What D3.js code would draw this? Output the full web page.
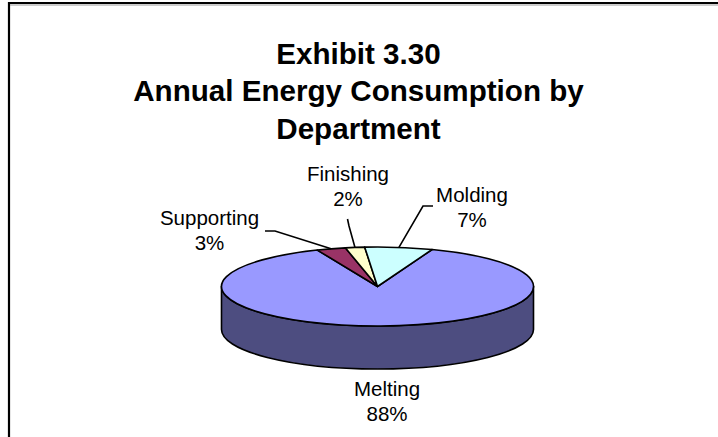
<!DOCTYPE html>
<html>
<head>
<meta charset="utf-8">
<script src="https://cdn.jsdelivr.net/npm/d3@7/dist/d3.min.js"></script>
<style>
  html, body { margin: 0; padding: 0; background: #fff; }
  svg { display: block; }
</style>
</head>
<body>
<svg id="chart" width="718" height="437"></svg>
<script>
// Department energy shares (percent of annual consumption)
const categories = ["Melting", "Supporting", "Finishing", "Molding"];
const values = [88, 3, 2, 7];
const colors = ["#9999FF", "#993366", "#FFFFCC", "#CCFFFF"];
const sideColors = ["#4D4D80", "#4D1A33", "#808066", "#668080"];
const titleLines = ["Exhibit 3.30", "Annual Energy Consumption by", "Department"];

const W = 718, H = 437;
const svg = d3.select("#chart");

// frame
svg.append("path")
  .attr("d", `M9,${H + 5} L9,3 L${W + 5},3`)
  .attr("fill", "none").attr("stroke", "#000").attr("stroke-width", 2.2);
svg.append("line")
  .attr("x1", 10).attr("x2", W).attr("y1", 5).attr("y2", 5)
  .attr("stroke", "#999").attr("stroke-width", 1);

// title
const title = svg.append("text")
  .attr("text-anchor", "middle")
  .attr("font-family", "'Liberation Sans', Arial, sans-serif")
  .attr("font-weight", "bold")
  .attr("font-size", 29.6)
  .attr("fill", "#000");
titleLines.forEach((t, i) => {
  title.append("tspan").attr("x", 358.5).attr("y", 63.5 + i * 37.5).text(t);
});

// 3D pie geometry (tilted ellipse)
const cx = 377.5, cy = 286.5, rx = 156, ry = 39.5, depth = 43;
const pt = (a, dy = 0) => [cx + rx * Math.sin(a), cy - ry * Math.cos(a) + dy];

const pie = d3.pie().sort(null).value(d => d)
  .startAngle(20.5 * Math.PI / 180)
  .endAngle(20.5 * Math.PI / 180 + 2 * Math.PI);
const arcs = pie(values);

const fmt = p => p.map(v => v.toFixed(2)).join(",");

// side wall: only the front half of the ellipse (angles pi/2 .. 3pi/2) is visible
const sides = [];
arcs.forEach((a, i) => {
  for (let k = -1; k <= 1; k++) {
    const lo = Math.PI / 2 + 2 * Math.PI * k, hi = 3 * Math.PI / 2 + 2 * Math.PI * k;
    const s0 = Math.max(a.startAngle, lo), s1 = Math.min(a.endAngle, hi);
    if (s1 > s0) sides.push({ i, s0, s1 });
  }
});
svg.append("g").selectAll("path").data(sides).join("path")
  .attr("d", d => {
    const large = d.s1 - d.s0 > Math.PI ? 1 : 0;
    return `M${fmt(pt(d.s0))} A${rx},${ry} 0 ${large} 1 ${fmt(pt(d.s1))}` +
      ` L${fmt(pt(d.s1, depth))} A${rx},${ry} 0 ${large} 0 ${fmt(pt(d.s0, depth))} Z`;
  })
  .attr("fill", d => sideColors[d.i])
  .attr("stroke", "#000").attr("stroke-width", 1.6).attr("stroke-linejoin", "round");

// top faces
svg.append("g").selectAll("path").data(arcs).join("path")
  .attr("d", a => {
    const large = a.endAngle - a.startAngle > Math.PI ? 1 : 0;
    return `M${cx},${cy} L${fmt(pt(a.startAngle))} A${rx},${ry} 0 ${large} 1 ${fmt(pt(a.endAngle))} Z`;
  })
  .attr("fill", (a, i) => colors[i])
  .attr("stroke", "#000").attr("stroke-width", 1.6).attr("stroke-linejoin", "round");

// data labels and leader lines (null = point on the rim at the slice's middle)
const labelLayout = {
  Melting:    { x: 387, y: 396, leader: null },
  Supporting: { x: 209.5, y: 225, leader: [[265, 231], [275, 231], null] },
  Finishing:  { x: 348, y: 181, leader: [[347.5, 219], [349, 226], null] },
  Molding:    { x: 472, y: 202, leader: [[433, 206], [423, 206], null] }
};

const labels = svg.append("g")
  .attr("font-family", "'Liberation Sans', Arial, sans-serif")
  .attr("font-size", 20.5)
  .attr("fill", "#000")
  .attr("text-anchor", "middle");

arcs.forEach((a, i) => {
  const L = labelLayout[categories[i]];
  const t = labels.append("text");
  t.append("tspan").attr("x", L.x).attr("y", L.y).text(categories[i]);
  t.append("tspan").attr("x", L.x).attr("y", L.y + 25).text(`${values[i]}%`);
  if (L.leader) {
    const mid = (a.startAngle + a.endAngle) / 2;
    const pts = L.leader.map(p => p || pt(mid));
    svg.append("path")
      .attr("d", d3.line()(pts))
      .attr("fill", "none").attr("stroke", "#000").attr("stroke-width", 1.6);
  }
});
</script>
</body>
</html>
